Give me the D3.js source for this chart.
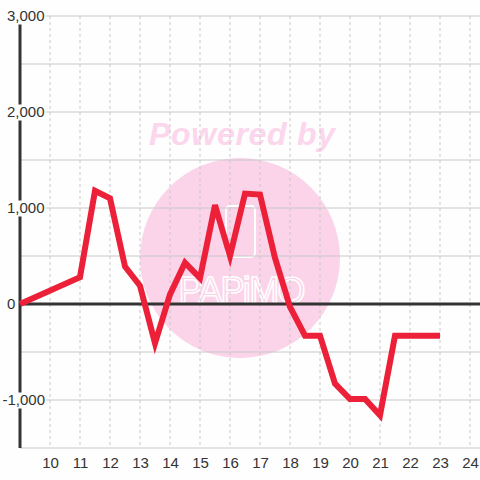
<!DOCTYPE html>
<html>
<head>
<meta charset="utf-8">
<style>
  body { margin: 0; background: #fdfefd; }
  svg { display: block; font-family: "Liberation Sans", Arial, sans-serif; }
</style>
</head>
<body>
<div id="chart"></div>
<script src="https://d3js.org/d3.v7.min.js"></script>
<script>
// data (hour of day, value)
var hours = [9, 11, 11.5, 12, 12.5, 13, 13.5, 14, 14.5, 15, 15.5, 16, 16.5, 17, 17.5,
  18, 18.5, 19, 19.5, 20, 20.5, 21, 21.5, 22, 22.5, 23];
var values = [0, 280, 1180, 1100, 390, 190, -410, 100, 430, 270, 1030, 500, 1150, 1140, 480,
  -30, -330, -330, -830, -990, -990, -1160, -330, -330, -330, -330];
var xTicks = [10, 11, 12, 13, 14, 15, 16, 17, 18, 19, 20, 21, 22, 23, 24];
var yGrid = [-1500, -1000, -500, 0, 500, 1000, 1500, 2000, 2500, 3000];
var yTicks = [-1000, 0, 1000, 2000, 3000];
var yTickLabels = ["-1,000", "0", "1,000", "2,000", "3,000"];

var width = 480, height = 480;
var plotLeft = 20, plotRight = 480, plotTop = 16, plotBottom = 448;

var x = d3.scaleLinear().domain([9, 24 + 1 / 3]).range([plotLeft, plotRight]);
var y = d3.scaleLinear().domain([-1500, 3000]).range([plotBottom, plotTop]);

var svg = d3.select("#chart").append("svg")
  .attr("width", width)
  .attr("height", height);

svg.append("rect")
  .attr("width", width).attr("height", height)
  .attr("fill", "#fdfefd");

// watermark
var wm = svg.append("g");
wm.append("circle")
  .attr("cx", 240).attr("cy", 258).attr("r", 100)
  .attr("fill", "#fbd4ea");
wm.append("text")
  .attr("x", 242).attr("y", 145)
  .attr("text-anchor", "middle")
  .attr("textLength", 186)
  .style("font-size", "32px")
  .style("font-weight", "bold")
  .style("font-style", "italic")
  .attr("fill", "#fcd6ec")
  .text("Powered by");
wm.append("rect")
  .attr("x", 226).attr("y", 206).attr("width", 29).attr("height", 51).attr("rx", 4)
  .attr("fill", "none").attr("stroke", "#ffffff").attr("stroke-width", 2);
wm.append("text")
  .attr("x", 242).attr("y", 303)
  .attr("text-anchor", "middle")
  .attr("textLength", 127)
  .style("font-size", "36px")
  .attr("fill", "none")
  .attr("stroke", "#ffffff")
  .attr("stroke-width", 1.5)
  .text("PAPiMO");

// vertical dotted grid
svg.append("g").selectAll("line")
  .data(xTicks)
  .enter().append("line")
  .attr("x1", function(d) { return x(d); })
  .attr("x2", function(d) { return x(d); })
  .attr("y1", plotTop).attr("y2", plotBottom)
  .attr("stroke", "#c8c8c8")
  .attr("stroke-dasharray", "3,3");

// horizontal grid
svg.append("g").selectAll("line")
  .data(yGrid.filter(function(d) { return d !== 0; }))
  .enter().append("line")
  .attr("x1", plotLeft).attr("x2", plotRight)
  .attr("y1", function(d) { return y(d); })
  .attr("y2", function(d) { return y(d); })
  .attr("stroke", "#c8c8c8");

// y axis line and zero line
svg.append("line")
  .attr("x1", plotLeft).attr("x2", plotLeft)
  .attr("y1", plotTop).attr("y2", plotBottom)
  .attr("stroke", "#333").attr("stroke-width", 3);
svg.append("line")
  .attr("x1", plotLeft).attr("x2", plotRight)
  .attr("y1", y(0)).attr("y2", y(0))
  .attr("stroke", "#333").attr("stroke-width", 3);

// the series
var line = d3.line()
  .x(function(d, i) { return x(hours[i]); })
  .y(function(d) { return y(d); });
svg.append("path")
  .datum(values)
  .attr("d", line)
  .attr("fill", "none")
  .attr("stroke", "#ed2039")
  .attr("stroke-width", 6);

// y labels, left aligned, on white boxes
var yAxis = svg.append("g")
  .attr("transform", "translate(7,0)")
  .call(d3.axisLeft(y).tickValues(yTicks).tickSize(0).tickPadding(0)
    .tickFormat(function(d, i) { return yTickLabels[i]; }));
yAxis.select(".domain").remove();
yAxis.selectAll(".tick text")
  .attr("text-anchor", "start")
  .attr("dx", function(d) { return d < 0 ? "-0.3em" : 0; })
  .attr("fill", "#333")
  .style("font-size", "15px")
  .style("font-family", "Liberation Sans, Arial, sans-serif");
yAxis.selectAll(".tick").each(function() {
  var t = d3.select(this).select("text");
  var b = t.node().getBBox();
  d3.select(this).insert("rect", "text")
    .attr("x", b.x - 1).attr("y", -8)
    .attr("width", b.width + 2).attr("height", 16)
    .attr("fill", "#fdfefd");
});

// x labels
var xAxis = svg.append("g")
  .attr("transform", "translate(0," + (plotBottom + 6) + ")")
  .call(d3.axisBottom(x).tickValues(xTicks).tickSize(0).tickPadding(0));
xAxis.select(".domain").remove();
xAxis.selectAll(".tick text")
  .attr("fill", "#333")
  .attr("dy", "0.95em")
  .style("font-size", "15px")
  .style("font-family", "Liberation Sans, Arial, sans-serif");
</script>
</body>
</html>
